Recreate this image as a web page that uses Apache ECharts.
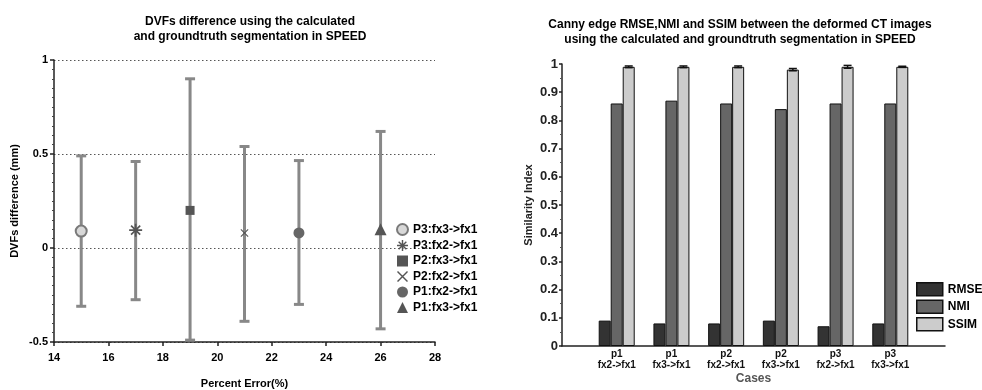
<!DOCTYPE html>
<html><head><meta charset="utf-8">
<script src="https://cdn.jsdelivr.net/npm/echarts@6/dist/echarts.min.js"></script>
<style>html,body{margin:0;padding:0;background:#fff}#c{width:982px;height:390px}</style>
</head><body><div id="c"></div>
<script>
// ---- Left chart data ----
const dvfNames = ['P3:fx3->fx1','P3:fx2->fx1','P2:fx3->fx1','P2:fx2->fx1','P1:fx2->fx1','P1:fx3->fx1'];
const dvfPercentError = [15, 17, 19, 21, 23, 26];
const dvfMean  = [0.09, 0.095, 0.20, 0.08, 0.08, 0.10];
const dvfUpper = [0.49, 0.46, 0.90, 0.54, 0.465, 0.62];
const dvfLower = [-0.31, -0.275, -0.49, -0.39, -0.30, -0.43];
// ---- Right chart data ----
const caseLabels = ['p1\nfx2->fx1','p1\nfx3->fx1','p2\nfx2->fx1','p2\nfx3->fx1','p3\nfx2->fx1','p3\nfx3->fx1'];
const metricNames = ['RMSE','NMI','SSIM'];
const rmse = [0.09, 0.08, 0.08, 0.09, 0.07, 0.08];
const nmi  = [0.86, 0.87, 0.86, 0.84, 0.86, 0.86];
const ssim = [0.99, 0.99, 0.99, 0.98, 0.99, 0.99];
const ssimErr = [0.003, 0.003, 0.003, 0.004, 0.005, 0.002];

const FONT = '"Liberation Sans", Arial, sans-serif';
const asterisk = 'path://M-1.3,-10L1.3,-10L1.3,10L-1.3,10Z M-10,-1.3L10,-1.3L10,1.3L-10,1.3Z M-7.9,-6.1L-6.1,-7.9L7.9,6.1L6.1,7.9Z M-7.9,6.1L6.1,-7.9L7.9,-6.1L-6.1,7.9Z';
const cross = 'path://M-7.7,-6.3L-6.3,-7.7L7.7,6.3L6.3,7.7Z M-7.7,6.3L6.3,-7.7L7.7,-6.3L-6.3,7.7Z';
const symbols = [
  {symbol:'circle', size:11, color:'#d8d8d8', border:'#7a7a7a', bw:2},
  {symbol:asterisk, size:13, color:'#555', border:'#555', bw:0},
  {symbol:'rect', size:9, color:'#555', border:'#555', bw:0},
  {symbol:cross, size:8, color:'#555', border:'#555', bw:0},
  {symbol:'circle', size:11, color:'#666', border:'#666', bw:0},
  {symbol:'triangle', size:12, color:'#555', border:'#555', bw:0}
];

const chart = echarts.init(document.getElementById('c'));
const catAxisData = [''].concat(caseLabels).concat(['']);

const series = [];
series.push({
  type:'custom', xAxisIndex:0, yAxisIndex:0, z:1, silent:true,
  data: dvfPercentError.map((x,i)=>[x, dvfLower[i], dvfUpper[i]]),
  renderItem: function(params, api){
    const lo = api.coord([api.value(0), api.value(1)]);
    const hi = api.coord([api.value(0), api.value(2)]);
    const w = 5;
    const st = {stroke:'#888', lineWidth:3};
    return {type:'group', children:[
      {type:'line', shape:{x1:lo[0],y1:lo[1],x2:hi[0],y2:hi[1]}, style:st},
      {type:'line', shape:{x1:lo[0]-w,y1:lo[1],x2:lo[0]+w,y2:lo[1]}, style:st},
      {type:'line', shape:{x1:hi[0]-w,y1:hi[1],x2:hi[0]+w,y2:hi[1]}, style:st}
    ]};
  }
});
dvfNames.forEach((n,i)=>{
  const s = symbols[i];
  series.push({
    name:n, type:'scatter', xAxisIndex:0, yAxisIndex:0, z:5,
    symbol:s.symbol, symbolSize:s.size,
    itemStyle:{color:s.color, borderColor:s.border, borderWidth:s.bw, opacity:1},
    data:[[dvfPercentError[i], dvfMean[i]]]
  });
});
const barColors = ['#333333','#666666','#cccccc'];
[rmse, nmi, ssim].forEach((arr,k)=>{
  series.push({
    name: metricNames[k], type:'bar', xAxisIndex:1, yAxisIndex:1,
    barWidth:12, barGap:'0%',
    itemStyle:{color:barColors[k], borderColor:'#111', borderWidth:1},
    data: arr.map((v,i)=>[i+1, v])
  });
});
series.push({
  type:'custom', xAxisIndex:1, yAxisIndex:1, z:5, silent:true,
  data: ssim.map((v,i)=>[i+1, v-ssimErr[i], v+ssimErr[i]]),
  renderItem: function(params, api){
    const lo = api.coord([api.value(0), api.value(1)]);
    const hi = api.coord([api.value(0), api.value(2)]);
    const x = lo[0] + 12;
    const w = 4;
    const st = {stroke:'#111', lineWidth:1.5};
    return {type:'group', children:[
      {type:'line', shape:{x1:x,y1:lo[1],x2:x,y2:hi[1]}, style:st},
      {type:'line', shape:{x1:x-w,y1:lo[1],x2:x+w,y2:lo[1]}, style:st},
      {type:'line', shape:{x1:x-w,y1:hi[1],x2:x+w,y2:hi[1]}, style:st}
    ]};
  }
});

chart.setOption({
  animation:false,
  textStyle:{fontFamily:FONT},
  title:[
    {text:'DVFs difference using the calculated\nand groundtruth segmentation in SPEED', left:245, top:9, textAlign:'center',
     textStyle:{fontFamily:FONT, fontSize:12, fontWeight:'bold', color:'#000', lineHeight:15}},
    {text:'Canny edge RMSE,NMI and SSIM between the deformed CT images\nusing the calculated and groundtruth segmentation in SPEED', left:735, top:12, textAlign:'center',
     textStyle:{fontFamily:FONT, fontSize:12, fontWeight:'bold', color:'#000', lineHeight:15}}
  ],
  legend:[
    {data:dvfNames, orient:'vertical', left:396, top:223, padding:0, itemWidth:11, itemHeight:11, itemGap:3.5,
     textStyle:{fontFamily:FONT, fontSize:12, fontWeight:'bold', color:'#000'}},
    {data:metricNames, orient:'vertical', left:916, top:282, padding:0, itemWidth:26, itemHeight:13, itemGap:3, icon:'rect',
     itemStyle:{borderColor:'#111', borderWidth:1.5},
     textStyle:{fontFamily:FONT, fontSize:12, fontWeight:'bold', color:'#000'}}
  ],
  grid:[
    {left:54, right:547, top:60, bottom:48, containLabel:false, outerBoundsMode:'none'},
    {left:562, right:37, top:64, bottom:44, containLabel:false, outerBoundsMode:'none'}
  ],
  xAxis:[
    {gridIndex:0, type:'value', min:14, max:28, interval:2,
     name:'Percent Error(%)', nameLocation:'middle', nameGap:36,
     nameTextStyle:{fontFamily:FONT, fontSize:11, fontWeight:'bold', color:'#000'},
     axisLine:{onZero:false, lineStyle:{color:'#222', width:1.5}},
     axisTick:{show:true, length:4, lineStyle:{color:'#222', width:1.5}},
     axisLabel:{fontFamily:FONT, fontSize:11, fontWeight:'bold', color:'#000', margin:10},
     splitLine:{show:false}},
    {gridIndex:1, type:'category', data:catAxisData, boundaryGap:false,
     name:'Cases', nameLocation:'middle', nameGap:27,
     nameMoveOverlap:false,
     nameTextStyle:{fontFamily:FONT, fontSize:12, fontWeight:'bold', color:'#555'},
     axisLine:{onZero:false, lineStyle:{color:'#222', width:1.5}},
     axisTick:{show:false},
     axisLabel:{fontFamily:FONT, fontSize:10, fontWeight:'bold', color:'#111', margin:3, lineHeight:11, interval:0},
     splitLine:{show:false}}
  ],
  yAxis:[
    {gridIndex:0, type:'value', min:-0.5, max:1, interval:0.5,
     name:'DVFs difference (mm)', nameLocation:'middle', nameGap:34, nameRotate:90,
     nameTextStyle:{fontFamily:FONT, fontSize:11, fontWeight:'bold', color:'#000'},
     axisLine:{show:true, onZero:false, lineStyle:{color:'#222', width:1.5}},
     axisTick:{show:true, length:4, lineStyle:{color:'#222', width:1.5}},
     minorTick:{show:true, splitNumber:10, length:2, lineStyle:{color:'#444', width:1}},
     axisLabel:{fontFamily:FONT, fontSize:11, fontWeight:'bold', color:'#000', margin:6},
     splitLine:{show:true, lineStyle:{color:'#555', type:[1.5,2.5], width:1}}},
    {gridIndex:1, type:'value', min:0, max:1, interval:0.1,
     name:'Similarity Index', nameLocation:'middle', nameGap:28, nameRotate:90,
     nameTextStyle:{fontFamily:FONT, fontSize:11, fontWeight:'bold', color:'#222'},
     axisLine:{show:true, onZero:false, lineStyle:{color:'#222', width:1.5}},
     axisTick:{show:true, length:3, lineStyle:{color:'#222', width:1.5}},
     minorTick:{show:true, splitNumber:2, length:2, lineStyle:{color:'#555', width:1}},
     axisLabel:{fontFamily:FONT, fontSize:13, fontWeight:'bold', color:'#222', margin:4},
     splitLine:{show:false}}
  ],
  series: series
});
</script></body></html>
